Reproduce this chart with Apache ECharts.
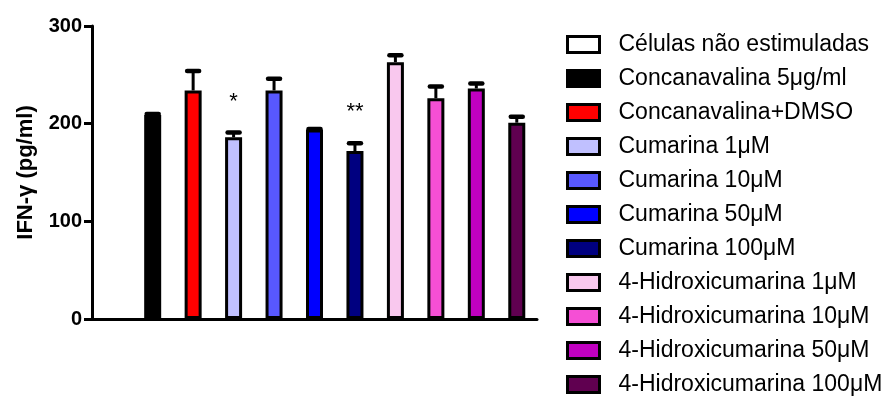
<!DOCTYPE html>
<html>
<head>
<meta charset="utf-8">
<script src="https://cdn.jsdelivr.net/npm/echarts@6/dist/echarts.min.js"></script>
<style>html,body{margin:0;padding:0;background:#fff;}#c{width:894px;height:399px;}</style>
</head>
<body>
<div id="c"></div>
<script>
const categories = ['Células não estimuladas','Concanavalina 5\u03bcg/ml','Concanavalina+DMSO','Cumarina 1\u03bcM','Cumarina 10\u03bcM','Cumarina 50\u03bcM','Cumarina 100\u03bcM','4-Hidroxicumarina 1\u03bcM','4-Hidroxicumarina 10\u03bcM','4-Hidroxicumarina 50\u03bcM','4-Hidroxicumarina 100\u03bcM'];
const values = [0, 209, 234, 186, 234, 194, 172, 263, 226, 236, 201];
const errors = [0, 1, 20, 5, 12, 0.5, 8, 7, 12, 5, 6];
const marks = ['', '', '', '*', '', '', '**', '', '', '', ''];
const colors = ['#ffffff','#000000','#ff0000','#c0c0ff','#5858ff','#0000ff','#000080','#f9c8ee','#f54fd5','#c000c0','#600050'];
const yTicks = [0, 100, 200, 300];

const FONT = '"Liberation Sans", Arial, sans-serif';
const chart = echarts.init(document.getElementById('c'), null, {renderer: 'canvas'});
const barSeries = categories.map((name, i) => ({
  name: name,
  type: 'bar',
  barWidth: 17,
  barGap: '-100%',
  data: categories.map((c, j) => j === i ? {value: values[i], itemStyle: {borderWidth: values[i] > 0 ? 3 : 0}} : null),
  itemStyle: {color: colors[i], borderColor: '#000', borderWidth: 3},
  emphasis: {disabled: true},
  z: 2
}));
const errData = categories.map((c, i) => [i, values[i], errors[i]]);
const errSeries = {
  type: 'custom',
  silent: true,
  z: 3,
  data: errData,
  renderItem: function (params, api) {
    const idx = api.value(0), v = api.value(1), e = api.value(2);
    const mark = marks[idx];
    const children = [];
    if (v > 0 && e > 0) {
      const p0 = api.coord([idx, v]);
      const p1 = api.coord([idx, v + e]);
      children.push({type: 'line', shape: {x1: p0[0], y1: p0[1], x2: p1[0], y2: p1[1]}, style: {stroke: '#000', lineWidth: 3}});
      children.push({type: 'line', shape: {x1: p1[0] - 6, y1: p1[1], x2: p1[0] + 6, y2: p1[1]}, style: {stroke: '#000', lineWidth: 4.5, lineCap: 'round'}});
    }
    if (mark) {
      const p2 = api.coord([idx, v + e]);
      children.push({type: 'text', x: p2[0], y: p2[1] - 20, style: {text: mark, fill: '#000', font: '22px ' + FONT, align: 'center', verticalAlign: 'bottom'}});
    }
    return {type: 'group', children: children};
  }
};

chart.setOption({
  animation: false,
  backgroundColor: '#fff',
  grid: {left: 92, right: 357, top: 26, bottom: 80, containLabel: false},
  legend: {
    orient: 'vertical',
    left: 566,
    top: 33,
    padding: 0,
    itemWidth: 32,
    itemHeight: 16,
    itemGap: 11,
    icon: 'rect',
    data: categories,
    itemStyle: {borderColor: '#000', borderWidth: 3},
    textStyle: {fontFamily: FONT, fontSize: 23, color: '#000', padding: [0, 0, 0, 14]},
    selectedMode: false
  },
  xAxis: {
    type: 'category',
    data: categories,
    axisLine: {lineStyle: {color: '#000', width: 3}},
    axisTick: {show: false},
    axisLabel: {show: false}
  },
  yAxis: {
    type: 'value',
    min: yTicks[0],
    max: yTicks[yTicks.length - 1],
    interval: 100,
    name: 'IFN-\u03b3 (pg/ml)',
    nameLocation: 'middle',
    nameGap: 55,
    nameRotate: 90,
    nameTextStyle: {fontFamily: FONT, fontSize: 22, fontWeight: 'bold', color: '#000'},
    axisLine: {show: true, lineStyle: {color: '#000', width: 3}},
    axisTick: {show: true, length: 8, lineStyle: {color: '#000', width: 3}},
    axisLabel: {fontFamily: FONT, fontSize: 20, fontWeight: 'bold', color: '#000', margin: 10},
    splitLine: {show: false}
  },
  series: barSeries.concat([errSeries])
});
</script>
</body>
</html>
